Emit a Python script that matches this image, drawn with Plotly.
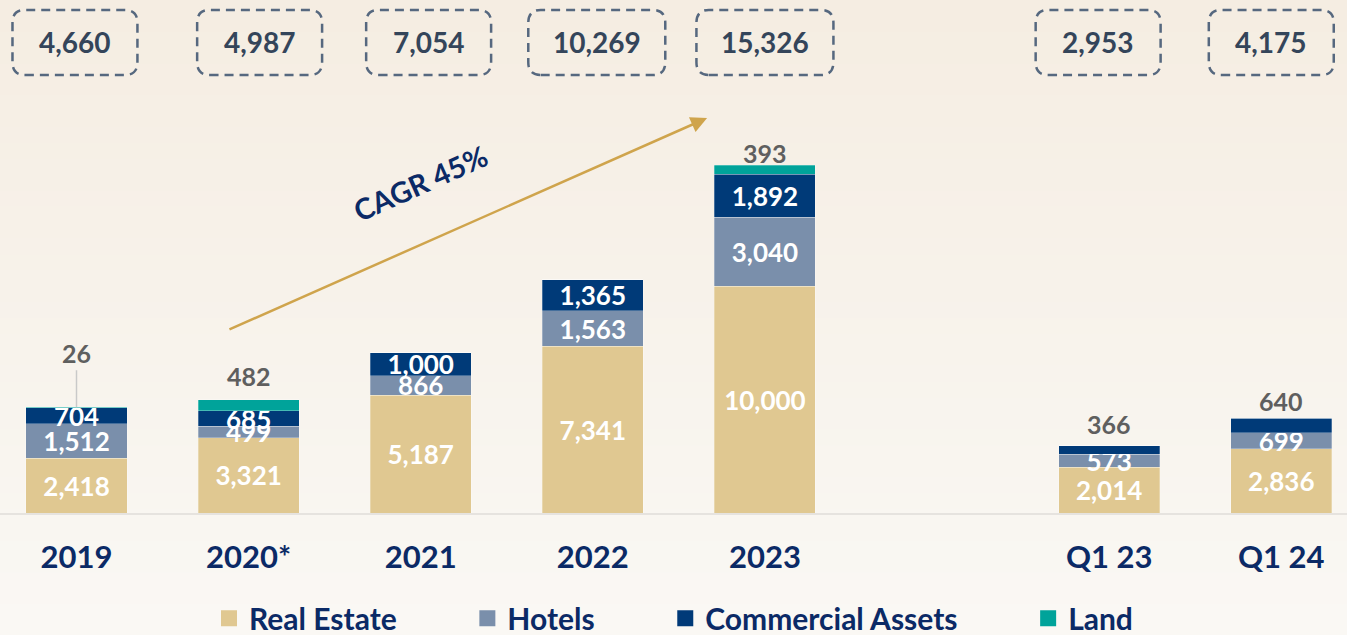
import plotly.graph_objects as go

# data
categories = ['2019', '2020*', '2021', '2022', '2023', 'Q1 23', 'Q1 24']
x_slots = [0, 1, 2, 3, 4, 6, 7]  # slot 5 left empty as a gap
real_estate = [2418, 3321, 5187, 7341, 10000, 2014, 2836]
hotels = [1512, 499, 866, 1563, 3040, 573, 699]
commercial = [704, 685, 1000, 1365, 1892, 366, 640]
land = [26, 482, 0, 0, 393, 0, 0]
totals = [4660, 4987, 7054, 10269, 15326, 2953, 4175]
commercial_above = [False, False, False, False, False, True, True]

NAVY = '#0B2A66'
COLORS = {'Real Estate': '#E0C891', 'Hotels': '#7A8FAB',
          'Commercial Assets': '#003A78', 'Land': '#00A39A'}
FONT = 'Lato'

fig = go.Figure()


def fmt(v):
    return f'{v:,}'


series = [
    ('Real Estate', real_estate, [fmt(v) for v in real_estate]),
    ('Hotels', hotels, [fmt(v) for v in hotels]),
    ('Commercial Assets', commercial,
     ['' if up else fmt(v) for v, up in zip(commercial, commercial_above)]),
    ('Land', land, ['' for _ in land]),
]

for name, vals, txt in series:
    fig.add_trace(go.Bar(
        x=x_slots, y=vals, name=name, width=0.587, showlegend=False,
        marker=dict(color=COLORS[name], line=dict(width=0.6, color='rgba(255,255,255,0.45)')),
        text=txt, textposition='inside', insidetextanchor='middle', textangle=0,
        textfont=dict(family=FONT, size=26, color='white', weight='bold'),
        hovertemplate='%{y:,}<extra>' + name + '</extra>',
    ))

# legend entries with larger square swatches (padded names widen the spacing)
for i, (name, _, _) in enumerate(series):
    pad = '' if i == len(series) - 1 else '\u00a0' * 9
    fig.add_trace(go.Scatter(x=[None], y=[None], mode='markers', name=name + pad,
                             marker=dict(symbol='square', size=16, color=COLORS[name])))

# gray labels sitting above the bars
stack_top = [r + h + c + l for r, h, c, l in zip(real_estate, hotels, commercial, land)]
label_shift = {1: 7, 4: -5, 5: 5, 6: 0}
for i, x in enumerate(x_slots):
    if land[i] > 0:
        val = land[i]
    elif commercial_above[i]:
        val = commercial[i]
    else:
        continue
    lab_font = dict(family=FONT, size=25, color='#5F5F5F', weight='bold')
    if i == 0:
        # tiny land segment gets a leader line
        fig.add_annotation(x=x, y=stack_top[i], text=fmt(val), showarrow=True,
                           arrowhead=0, arrowwidth=1.5, arrowcolor='#C9C9C9',
                           ax=0, ay=-37, yanchor='bottom', font=lab_font)
    else:
        fig.add_annotation(x=x, y=stack_top[i], text=fmt(val), showarrow=False,
                           yanchor='bottom', yshift=label_shift.get(i, 4), font=lab_font)

# dashed total boxes on top
box_offset = [-0.009, 0.064, 0.046, 0.023, 0.0, -0.064, -0.058]
y0, y1 = 1 - 75 / 513, 1 - 10 / 513
rx, ry = 0.072, 0.025
for x, off, tot in zip(x_slots, box_offset, totals):
    half = 0.398 if tot >= 10000 else 0.363
    xc = x + off
    xa, xb = xc - half, xc + half
    path = (f'M {xa + rx},{y0} L {xb - rx},{y0} Q {xb},{y0} {xb},{y0 + ry} '
            f'L {xb},{y1 - ry} Q {xb},{y1} {xb - rx},{y1} '
            f'L {xa + rx},{y1} Q {xa},{y1} {xa},{y1 - ry} '
            f'L {xa},{y0 + ry} Q {xa},{y0} {xa + rx},{y0} Z')
    fig.add_shape(type='path', path=path, xref='x', yref='paper',
                  line=dict(color='#56687F', width=2.5, dash='9px,6px'))
    fig.add_annotation(x=xc, y=(y0 + y1) / 2, xref='x', yref='paper', text=fmt(tot),
                       showarrow=False, yanchor='middle', xanchor='center',
                       font=dict(family=FONT, size=28, color='#34455A', weight='bold'))

# CAGR arrow
fig.add_annotation(x=3.664, y=17400, ax=0.88, ay=8060, axref='x', ayref='y',
                   xref='x', yref='y', text='', showarrow=True, arrowhead=2,
                   arrowsize=1.3, arrowwidth=2.5, arrowcolor='#CFA44C')
fig.add_annotation(x=2.0, y=14550, text='CAGR 45%', showarrow=False, textangle=-24,
                   font=dict(family=FONT, size=29, color=NAVY, weight='bold'))

# soft beige background gradient
n = 40
top_c, bot_c = (245, 237, 226), (250, 248, 244)
ytop, ybot = 1.0, -0.24
for k in range(n):
    t = k / (n - 1)
    c = tuple(round(a + (b - a) * t) for a, b in zip(top_c, bot_c))
    fig.add_shape(type='rect', xref='paper', yref='paper', layer='below',
                  x0=0, x1=1, y0=ytop - (ytop - ybot) * (k + 1) / n - 0.002,
                  y1=ytop - (ytop - ybot) * k / n,
                  fillcolor=f'rgb{c}', line=dict(width=0))

fig.update_layout(
    width=1347, height=635,
    barmode='stack',
    margin=dict(l=0, r=0, t=0, b=122, autoexpand=False),
    paper_bgcolor='rgb(250,248,244)', plot_bgcolor='rgba(0,0,0,0)',
    uniformtext=dict(minsize=26, mode='show'),
    legend=dict(orientation='h', x=0.5, xanchor='center', y=-0.205, yanchor='middle',
                font=dict(family=FONT, size=30, color=NAVY, weight='bold'),
                itemwidth=30, bgcolor='rgba(0,0,0,0)', traceorder='normal'),
    showlegend=True,
)
fig.update_xaxes(range=[-0.4445, 7.382], tickvals=x_slots, ticktext=categories,
                 showgrid=False, zeroline=False, showline=True, linecolor='#E6E3DF',
                 linewidth=2, ticks='outside', ticklen=16, tickcolor='rgba(0,0,0,0)',
                 tickfont=dict(family=FONT, size=31, color=NAVY, weight='bold'))
fig.update_yaxes(range=[0, 22600], visible=False, showgrid=False)

fig.write_html('out.html', config={'displayModeBar': False},
               post_script="document.body.style.margin='0';")
